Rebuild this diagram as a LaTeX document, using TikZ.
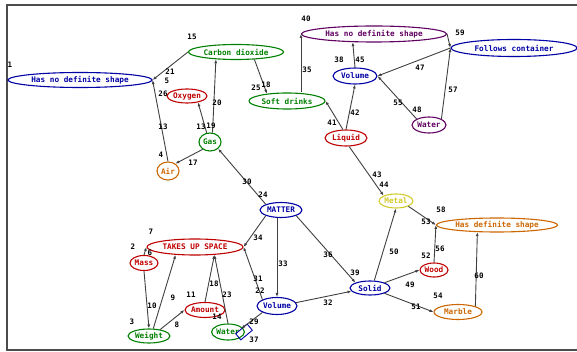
\documentclass[tikz,border=0pt]{standalone}
\usepackage{fontspec}
\setmonofont{DejaVu Sans Mono}
\usepackage{tikz}
\usetikzlibrary{shapes.geometric}
\usetikzlibrary{arrows.meta}
\tikzset{>={Latex[length=4pt,width=3pt]}}
\usepackage{xcolor}
\colorlet{cnblue}{blue!65!black}
\colorlet{cnred}{red!75!black}
\colorlet{cngreen}{green!50!black}
\colorlet{cnorange}{orange!80!black}
\colorlet{cnyellow}{yellow!80!black}
\colorlet{cnpurple}{violet!75!black}
\tikzstyle{concept}=[ellipse,draw,line width=1.1pt,inner sep=0pt,font=\ttfamily\bfseries\fontsize{7.7}{9}\selectfont]
\tikzstyle{num}=[inner sep=0pt,font=\ttfamily\bfseries\fontsize{7.5}{9}\selectfont]
\tikzstyle{link}=[->,line width=0.9pt,black!75]

\begin{document}
\begin{tikzpicture}[x=1pt,y=-1pt]
    \useasboundingbox (0,0) rectangle (577,352);
    \draw[black!70,line width=1.6pt] (577,5) -- (7,5) -- (7,350) -- (577,350);

    % concepts
    \node[concept,cnblue,minimum width=144,minimum height=15] (hnds) at (80,80) {Has no definite shape};
    \node[concept,cngreen,minimum width=95,minimum height=15] (co2) at (236,52) {Carbon dioxide};
    \node[concept,cnred,minimum width=40,minimum height=14] (oxygen) at (187,96) {Oxygen};
    \node[concept,cngreen,minimum width=22,minimum height=18] (gas) at (210,142) {Gas};
    \node[concept,cnorange,minimum width=22,minimum height=18] (air) at (168,171) {Air};
    \node[concept,cngreen,minimum width=76,minimum height=16] (soft) at (287,101) {Soft drinks};
    \node[concept,cnpurple,minimum width=145,minimum height=16] (hndstop) at (374,34) {Has no definite shape};
    \node[concept,cnblue,minimum width=126,minimum height=17] (follows) at (514,48) {Follows container};
    \node[concept,cnblue,minimum width=44,minimum height=16] (voltop) at (355,76) {Volume};
    \node[concept,cnpurple,minimum width=34,minimum height=16] (waterp) at (429,125) {Water};
    \node[concept,cnred,minimum width=42,minimum height=16] (liquid) at (346,138) {Liquid};
    \node[concept,cnyellow,minimum width=34,minimum height=14] (metal) at (396,201) {Metal};
    \node[concept,cnorange,minimum width=121,minimum height=14] (hds) at (497,225) {Has definite shape};
    \node[concept,cnred,minimum width=28,minimum height=14] (wood) at (434,270) {Wood};
    \node[concept,cnblue,minimum width=40,minimum height=14] (solid) at (370,288) {Solid};
    \node[concept,cnorange,minimum width=48,minimum height=15] (marble) at (458,312) {Marble};
    \node[concept,cnblue,minimum width=42,minimum height=15] (matter) at (281,210) {MATTER};
    \node[concept,cnred,minimum width=96,minimum height=16] (tus) at (195,247) {TAKES UP SPACE};
    \node[concept,cnred,minimum width=28,minimum height=15] (mass) at (144,263) {Mass};
    \node[concept,cngreen,minimum width=42,minimum height=14] (weight) at (149,336) {Weight};
    \node[concept,cnred,minimum width=40,minimum height=15] (amount) at (205,310) {Amount};
    \node[concept,cngreen,minimum width=32,minimum height=16] (waterg) at (228,332) {Water};
    \node[concept,cnblue,minimum width=40,minimum height=17] (volbot) at (277,306) {Volume};
    \node[draw=cnblue,line width=0.9pt,rectangle,rotate=40,minimum width=15,minimum height=8,inner sep=0pt] (mark) at (244,332) {};

    % links
    \draw[link] (co2.west) -- (hnds.east);
    \draw[link] (air.north) -- (hnds.east);
    \draw[link] (gas.110) -- (oxygen.330);
    \draw[link] (gas.75) -- (co2.200);
    \draw[link] (gas.225) -- (air.45);
    \draw[link] (matter.north west) -- (gas.south east);
    \draw[link] (co2.338) -- (soft.160);
    \draw[link] (soft.north -| hndstop.west) -- (hndstop.west);
    \draw[link] (liquid.110) -- (soft.east);
    \draw[link] (liquid.north) -- (voltop.south);
    \draw[link] (voltop.north) -- (hndstop.201);
    \draw[link] (hndstop.east) -- (follows.west);
    \draw[link] (follows.west) -- (voltop.east);
    \draw[link] (waterp.north west) -- (voltop.east);
    \draw[link] (waterp.north east) -- (follows.west);
    \draw[link] (liquid.290) -- (metal.north west);
    \draw[link] (metal.south east) -- (hds.west);
    \draw[link] (wood.north) -- (hds.west);
    \draw[link] (marble.north east) -- (hds.200);
    \draw[link] (solid.60) -- (metal.south);
    \draw[link] (solid.20) -- (wood.west);
    \draw[link] (solid.south east) -- (marble.west);
    \draw[link] (matter.south east) -- (solid.north west);
    \draw[link] (volbot.10) -- (solid.190);
    \draw[link] (matter.south -| volbot.north) -- (volbot.north);
    \draw[link] (matter.south west) -- (tus.east);
    \draw[link] (volbot.north west) -- (tus.east);
    \draw[link] (mass.north) -- (tus.west);
    \draw[link] (mass.south) -- (weight.north);
    \draw[link] (weight.60) -- (tus.202);
    \draw[link] (weight.30) -- (amount.west);
    \draw[link] (amount.north) -- (tus.338);
    \draw[link] (waterg.north) -- (tus.338);
    \draw[link] (volbot.south west) -- (mark.north);

    % link numbers
    \node[num] (l1) at (10,65) {1};
    \node[num] (l15) at (192,37) {15};
    \node[num] (l21) at (170,72) {21};
    \node[num] (l5) at (167,81) {5};
    \node[num] (l26) at (163,94) {26};
    \node[num] (l13a) at (163,127) {13};
    \node[num] (l13b) at (201,127) {13};
    \node[num] (l19) at (211,126) {19};
    \node[num] (l4) at (161,155) {4};
    \node[num] (l17) at (193,163) {17};
    \node[num] (l20) at (217,103) {20};
    \node[num] (l25) at (256,88) {25};
    \node[num] (l18a) at (266,85) {18};
    \node[num] (l40) at (306,19) {40};
    \node[num] (l35) at (307,70) {35};
    \node[num] (l38) at (339,60) {38};
    \node[num] (l45) at (360,60) {45};
    \node[num] (l59) at (460,33) {59};
    \node[num] (l47) at (420,68) {47};
    \node[num] (l57) at (453,90) {57};
    \node[num] (l55) at (398,103) {55};
    \node[num] (l48) at (417,110) {48};
    \node[num] (l41) at (332,123) {41};
    \node[num] (l42) at (355,113) {42};
    \node[num] (l43) at (377,175) {43};
    \node[num] (l44) at (384,185) {44};
    \node[num] (l30) at (247,182) {30};
    \node[num] (l24) at (263,195) {24};
    \node[num] (l34) at (258,238) {34};
    \node[num] (l7) at (151,232) {7};
    \node[num] (l2) at (133,247) {2};
    \node[num] (l6) at (150,253) {6};
    \node[num] (l33) at (283,264) {33};
    \node[num] (l36) at (328,255) {36};
    \node[num] (l39) at (355,273) {39};
    \node[num] (l31) at (258,279) {31};
    \node[num] (l22) at (260,291) {22};
    \node[num] (l58) at (441,210) {58};
    \node[num] (l53) at (426,222) {53};
    \node[num] (l56) at (440,249) {56};
    \node[num] (l52) at (426,256) {52};
    \node[num] (l50) at (394,252) {50};
    \node[num] (l49) at (410,285) {49};
    \node[num] (l54) at (438,296) {54};
    \node[num] (l51) at (416,307) {51};
    \node[num] (l60) at (479,276) {60};
    \node[num] (l32) at (328,303) {32};
    \node[num] (l10) at (152,306) {10};
    \node[num] (l9) at (173,298) {9};
    \node[num] (l11) at (191,295) {11};
    \node[num] (l18b) at (214,284) {18};
    \node[num] (l23) at (227,295) {23};
    \node[num] (l14) at (217,317) {14};
    \node[num] (l8) at (177,325) {8};
    \node[num] (l3) at (132,322) {3};
    \node[num] (l29) at (254,322) {29};
    \node[num] (l37) at (254,340) {37};
\end{tikzpicture}
\end{document}
